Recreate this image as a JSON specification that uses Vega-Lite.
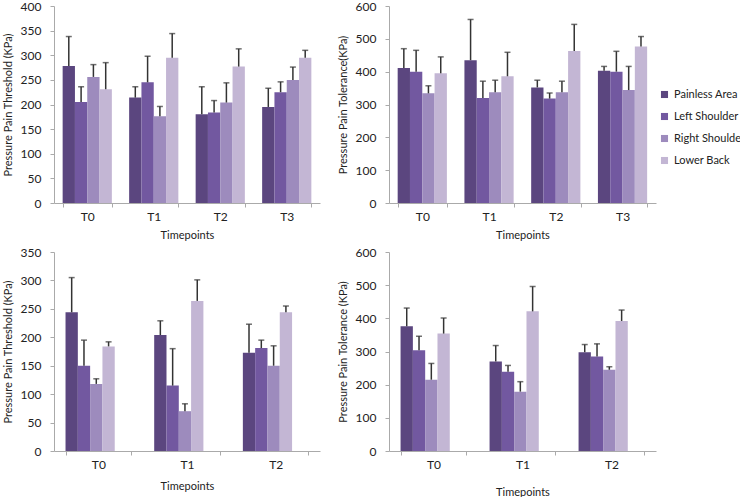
{
  "$schema": "https://vega.github.io/schema/vega-lite/v6.json",
  "padding": {"left": 2, "top": 0, "right": 0, "bottom": 0},
  "background": "white",
  "datasets": {
    "d": [
      {"p": "A", "t": "T0", "s": "Painless Area", "m": 278, "u": 338},
      {"p": "A", "t": "T0", "s": "Left Shoulder", "m": 205, "u": 236},
      {"p": "A", "t": "T0", "s": "Right Shoulder", "m": 256, "u": 281},
      {"p": "A", "t": "T0", "s": "Lower Back", "m": 231, "u": 285},
      {"p": "A", "t": "T1", "s": "Painless Area", "m": 214, "u": 236},
      {"p": "A", "t": "T1", "s": "Left Shoulder", "m": 245, "u": 298},
      {"p": "A", "t": "T1", "s": "Right Shoulder", "m": 176, "u": 196},
      {"p": "A", "t": "T1", "s": "Lower Back", "m": 295, "u": 344},
      {"p": "A", "t": "T2", "s": "Painless Area", "m": 180, "u": 236},
      {"p": "A", "t": "T2", "s": "Left Shoulder", "m": 184, "u": 208},
      {"p": "A", "t": "T2", "s": "Right Shoulder", "m": 204, "u": 244},
      {"p": "A", "t": "T2", "s": "Lower Back", "m": 277, "u": 313},
      {"p": "A", "t": "T3", "s": "Painless Area", "m": 195, "u": 233},
      {"p": "A", "t": "T3", "s": "Left Shoulder", "m": 225, "u": 246},
      {"p": "A", "t": "T3", "s": "Right Shoulder", "m": 250, "u": 276},
      {"p": "A", "t": "T3", "s": "Lower Back", "m": 295, "u": 310},
      {"p": "B", "t": "T0", "s": "Painless Area", "m": 411, "u": 470},
      {"p": "B", "t": "T0", "s": "Left Shoulder", "m": 400, "u": 465},
      {"p": "B", "t": "T0", "s": "Right Shoulder", "m": 334, "u": 357},
      {"p": "B", "t": "T0", "s": "Lower Back", "m": 395, "u": 445},
      {"p": "B", "t": "T1", "s": "Painless Area", "m": 435, "u": 559},
      {"p": "B", "t": "T1", "s": "Left Shoulder", "m": 320, "u": 371},
      {"p": "B", "t": "T1", "s": "Right Shoulder", "m": 337, "u": 374},
      {"p": "B", "t": "T1", "s": "Lower Back", "m": 386, "u": 459},
      {"p": "B", "t": "T2", "s": "Painless Area", "m": 352, "u": 374},
      {"p": "B", "t": "T2", "s": "Left Shoulder", "m": 318, "u": 335},
      {"p": "B", "t": "T2", "s": "Right Shoulder", "m": 337, "u": 371},
      {"p": "B", "t": "T2", "s": "Lower Back", "m": 463, "u": 544},
      {"p": "B", "t": "T3", "s": "Painless Area", "m": 403, "u": 416},
      {"p": "B", "t": "T3", "s": "Left Shoulder", "m": 400, "u": 462},
      {"p": "B", "t": "T3", "s": "Right Shoulder", "m": 344, "u": 416},
      {"p": "B", "t": "T3", "s": "Lower Back", "m": 477, "u": 507},
      {"p": "C", "t": "T0", "s": "Painless Area", "m": 244, "u": 305},
      {"p": "C", "t": "T0", "s": "Left Shoulder", "m": 150, "u": 195},
      {"p": "C", "t": "T0", "s": "Right Shoulder", "m": 118, "u": 127},
      {"p": "C", "t": "T0", "s": "Lower Back", "m": 184, "u": 192},
      {"p": "C", "t": "T1", "s": "Painless Area", "m": 204, "u": 229},
      {"p": "C", "t": "T1", "s": "Left Shoulder", "m": 115, "u": 180},
      {"p": "C", "t": "T1", "s": "Right Shoulder", "m": 70, "u": 83},
      {"p": "C", "t": "T1", "s": "Lower Back", "m": 264, "u": 301},
      {"p": "C", "t": "T2", "s": "Painless Area", "m": 173, "u": 223},
      {"p": "C", "t": "T2", "s": "Left Shoulder", "m": 181, "u": 195},
      {"p": "C", "t": "T2", "s": "Right Shoulder", "m": 150, "u": 185},
      {"p": "C", "t": "T2", "s": "Lower Back", "m": 244, "u": 255},
      {"p": "D", "t": "T0", "s": "Painless Area", "m": 376, "u": 431},
      {"p": "D", "t": "T0", "s": "Left Shoulder", "m": 304, "u": 346},
      {"p": "D", "t": "T0", "s": "Right Shoulder", "m": 215, "u": 264},
      {"p": "D", "t": "T0", "s": "Lower Back", "m": 354, "u": 401},
      {"p": "D", "t": "T1", "s": "Painless Area", "m": 270, "u": 318},
      {"p": "D", "t": "T1", "s": "Left Shoulder", "m": 239, "u": 258},
      {"p": "D", "t": "T1", "s": "Right Shoulder", "m": 179, "u": 209},
      {"p": "D", "t": "T1", "s": "Lower Back", "m": 421, "u": 496},
      {"p": "D", "t": "T2", "s": "Painless Area", "m": 298, "u": 321},
      {"p": "D", "t": "T2", "s": "Left Shoulder", "m": 285, "u": 323},
      {"p": "D", "t": "T2", "s": "Right Shoulder", "m": 245, "u": 254},
      {"p": "D", "t": "T2", "s": "Lower Back", "m": 392, "u": 425}
    ]
  },
  "config": {
    "font": "Lato",
    "view": {"stroke": null},
    "axis": {
      "labelFont": "Lato", "labelFontSize": 12, "labelColor": "#222", "labelPadding": 5,
      "titleFont": "Lato", "titleFontSize": 11, "titleFontWeight": "normal", "titleColor": "#222",
      "domainColor": "#aaa", "tickColor": "#aaa", "grid": false, "tickSize": 4, "labelOverlap": false
    },
    "axisY": {"titlePadding": 7, "labelPadding": 9},
    "legend": {"labelFont": "Lato", "labelFontSize": 11, "labelColor": "#222"}
  },
  "spacing": 6,
  "vconcat": [
    {
      "spacing": 17,
      "hconcat": [
        {
          "width": 266, "height": 197,
          "data": {"name": "d"},
          "transform": [{"filter": "datum.p == 'A'"}],
          "encoding": {
            "x": {"field": "t", "type": "nominal", "title": "Timepoints", "scale": {"paddingInner": 0.26, "paddingOuter": 0.13}, "axis": {"labelAngle": 0, "tickBand": "extent", "labelPadding": 4, "titlePadding": 7}},
            "xOffset": {"field": "s", "type": "nominal", "sort": ["Painless Area", "Left Shoulder", "Right Shoulder", "Lower Back"]}
          },
          "layer": [
            {"mark": {"type": "bar"}, "encoding": {
              "y": {"field": "m", "type": "quantitative", "title": "Pressure Pain Threshold (KPa)", "scale": {"domain": [0, 400]}, "axis": {"values": [0, 50, 100, 150, 200, 250, 300, 350, 400]}},
              "color": {"field": "s", "type": "nominal", "sort": ["Painless Area", "Left Shoulder", "Right Shoulder", "Lower Back"], "scale": {"domain": ["Painless Area", "Left Shoulder", "Right Shoulder", "Lower Back"], "range": ["#5b467f", "#7258a0", "#9d8bbd", "#c3b6d4"]}, "legend": {"title": null, "orient": "none", "legendX": 605, "legendY": 83, "symbolType": "square", "symbolSize": 50, "rowPadding": 10, "labelOffset": 4}}
            }},
            {"mark": {"type": "rule", "color": "#333", "strokeWidth": 1.5}, "encoding": {"y": {"field": "m", "type": "quantitative", "title": "Pressure Pain Threshold (KPa)", "scale": {"domain": [0, 400]}, "axis": {"values": [0, 50, 100, 150, 200, 250, 300, 350, 400]}}, "y2": {"field": "u"}}},
            {"mark": {"type": "tick", "color": "#333", "thickness": 1.5, "size": 6}, "encoding": {"y": {"field": "u", "type": "quantitative", "title": "Pressure Pain Threshold (KPa)", "scale": {"domain": [0, 400]}, "axis": {"values": [0, 50, 100, 150, 200, 250, 300, 350, 400]}}}}
          ]
        },
        {
          "width": 267, "height": 197,
          "data": {"name": "d"},
          "transform": [{"filter": "datum.p == 'B'"}],
          "encoding": {
            "x": {"field": "t", "type": "nominal", "title": "Timepoints", "scale": {"paddingInner": 0.26, "paddingOuter": 0.13}, "axis": {"labelAngle": 0, "tickBand": "extent", "labelPadding": 4, "titlePadding": 7}},
            "xOffset": {"field": "s", "type": "nominal", "sort": ["Painless Area", "Left Shoulder", "Right Shoulder", "Lower Back"]}
          },
          "layer": [
            {"mark": {"type": "bar"}, "encoding": {
              "y": {"field": "m", "type": "quantitative", "title": "Pressure Pain Tolerance(KPa)", "scale": {"domain": [0, 600]}, "axis": {"values": [0, 100, 200, 300, 400, 500, 600]}},
              "color": {"field": "s", "type": "nominal", "sort": ["Painless Area", "Left Shoulder", "Right Shoulder", "Lower Back"], "scale": {"domain": ["Painless Area", "Left Shoulder", "Right Shoulder", "Lower Back"], "range": ["#5b467f", "#7258a0", "#9d8bbd", "#c3b6d4"]}, "legend": {"title": null, "orient": "none", "legendX": 605, "legendY": 83, "symbolType": "square", "symbolSize": 50, "rowPadding": 10, "labelOffset": 4}}
            }},
            {"mark": {"type": "rule", "color": "#333", "strokeWidth": 1.5}, "encoding": {"y": {"field": "m", "type": "quantitative", "title": "Pressure Pain Tolerance(KPa)", "scale": {"domain": [0, 600]}, "axis": {"values": [0, 100, 200, 300, 400, 500, 600]}}, "y2": {"field": "u"}}},
            {"mark": {"type": "tick", "color": "#333", "thickness": 1.5, "size": 6}, "encoding": {"y": {"field": "u", "type": "quantitative", "title": "Pressure Pain Tolerance(KPa)", "scale": {"domain": [0, 600]}, "axis": {"values": [0, 100, 200, 300, 400, 500, 600]}}}}
          ]
        }
      ]
    },
    {
      "spacing": 17,
      "hconcat": [
        {
          "width": 266, "height": 199,
          "data": {"name": "d"},
          "transform": [{"filter": "datum.p == 'C'"}],
          "encoding": {
            "x": {"field": "t", "type": "nominal", "title": "Timepoints", "scale": {"paddingInner": 0.26, "paddingOuter": 0.13}, "axis": {"labelAngle": 0, "tickBand": "extent", "labelPadding": 4, "titlePadding": 10}},
            "xOffset": {"field": "s", "type": "nominal", "sort": ["Painless Area", "Left Shoulder", "Right Shoulder", "Lower Back"]}
          },
          "layer": [
            {"mark": {"type": "bar"}, "encoding": {
              "y": {"field": "m", "type": "quantitative", "title": "Pressure Pain Threshold (KPa)", "scale": {"domain": [0, 350]}, "axis": {"values": [0, 50, 100, 150, 200, 250, 300, 350]}},
              "color": {"field": "s", "type": "nominal", "sort": ["Painless Area", "Left Shoulder", "Right Shoulder", "Lower Back"], "scale": {"domain": ["Painless Area", "Left Shoulder", "Right Shoulder", "Lower Back"], "range": ["#5b467f", "#7258a0", "#9d8bbd", "#c3b6d4"]}, "legend": {"title": null, "orient": "none", "legendX": 605, "legendY": 83, "symbolType": "square", "symbolSize": 50, "rowPadding": 10, "labelOffset": 4}}
            }},
            {"mark": {"type": "rule", "color": "#333", "strokeWidth": 1.5}, "encoding": {"y": {"field": "m", "type": "quantitative", "title": "Pressure Pain Threshold (KPa)", "scale": {"domain": [0, 350]}, "axis": {"values": [0, 50, 100, 150, 200, 250, 300, 350]}}, "y2": {"field": "u"}}},
            {"mark": {"type": "tick", "color": "#333", "thickness": 1.5, "size": 6}, "encoding": {"y": {"field": "u", "type": "quantitative", "title": "Pressure Pain Threshold (KPa)", "scale": {"domain": [0, 350]}, "axis": {"values": [0, 50, 100, 150, 200, 250, 300, 350]}}}}
          ]
        },
        {
          "width": 267, "height": 199,
          "data": {"name": "d"},
          "transform": [{"filter": "datum.p == 'D'"}],
          "encoding": {
            "x": {"field": "t", "type": "nominal", "title": "Timepoints", "scale": {"paddingInner": 0.26, "paddingOuter": 0.13}, "axis": {"labelAngle": 0, "tickBand": "extent", "labelPadding": 4, "titlePadding": 16}},
            "xOffset": {"field": "s", "type": "nominal", "sort": ["Painless Area", "Left Shoulder", "Right Shoulder", "Lower Back"]}
          },
          "layer": [
            {"mark": {"type": "bar"}, "encoding": {
              "y": {"field": "m", "type": "quantitative", "title": "Pressure Pain Tolerance (KPa)", "scale": {"domain": [0, 600]}, "axis": {"values": [0, 100, 200, 300, 400, 500, 600]}},
              "color": {"field": "s", "type": "nominal", "sort": ["Painless Area", "Left Shoulder", "Right Shoulder", "Lower Back"], "scale": {"domain": ["Painless Area", "Left Shoulder", "Right Shoulder", "Lower Back"], "range": ["#5b467f", "#7258a0", "#9d8bbd", "#c3b6d4"]}, "legend": {"title": null, "orient": "none", "legendX": 605, "legendY": 83, "symbolType": "square", "symbolSize": 50, "rowPadding": 10, "labelOffset": 4}}
            }},
            {"mark": {"type": "rule", "color": "#333", "strokeWidth": 1.5}, "encoding": {"y": {"field": "m", "type": "quantitative", "title": "Pressure Pain Tolerance (KPa)", "scale": {"domain": [0, 600]}, "axis": {"values": [0, 100, 200, 300, 400, 500, 600]}}, "y2": {"field": "u"}}},
            {"mark": {"type": "tick", "color": "#333", "thickness": 1.5, "size": 6}, "encoding": {"y": {"field": "u", "type": "quantitative", "title": "Pressure Pain Tolerance (KPa)", "scale": {"domain": [0, 600]}, "axis": {"values": [0, 100, 200, 300, 400, 500, 600]}}}}
          ]
        }
      ]
    }
  ]
}
